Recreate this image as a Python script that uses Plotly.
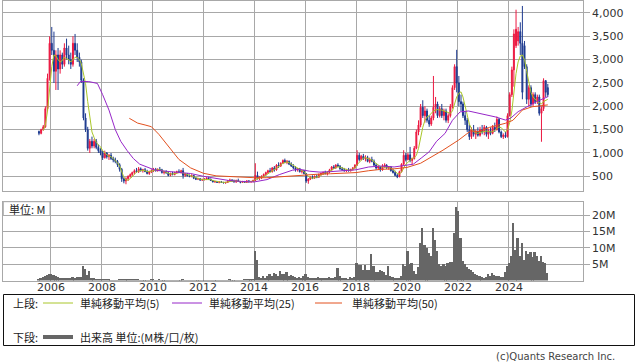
import pandas as pd
import plotly.graph_objects as go

# ---------------- data (monthly, Jul 2005 .. Jul 2025) ----------------
opens = [
    1460, 1420, 1500, 1560, 1950, 2600,                                   # 2005 Jul-Dec
    3350, 3200, 2750, 3100, 2800, 3100, 2900, 3250, 3100, 3000, 2900, 3350,  # 2006
    3200, 3050, 2950, 2560, 1750, 1500, 1100, 1250, 1150, 1250, 1120, 1050,  # 2007
    1000, 900, 1000, 920, 950, 880, 850, 820, 750, 650, 450, 400,          # 2008
    450, 500, 540, 580, 620, 600, 660, 620, 640, 600, 560, 600,            # 2009
    620, 650, 620, 650, 640, 580, 600, 570, 520, 560, 540, 580,            # 2010
    600, 580, 620, 520, 550, 510, 500, 520, 460, 440, 450, 420,            # 2011
    430, 440, 460, 440, 410, 380, 390, 370, 380, 370, 360, 370,            # 2012
    400, 420, 400, 380, 410, 390, 370, 390, 370, 400, 380, 390,            # 2013
    410, 520, 460, 480, 500, 540, 580, 620, 600, 680, 640, 740,            # 2014
    720, 780, 840, 800, 820, 760, 720, 680, 640, 660, 600, 620,            # 2015
    560, 400, 440, 480, 460, 500, 480, 540, 560, 580, 560, 590,            # 2016
    640, 700, 680, 740, 720, 660, 640, 620, 640, 620, 650, 680,            # 2017
    740, 950, 860, 930, 880, 900, 820, 860, 820, 740, 680, 700,            # 2018
    640, 720, 740, 680, 700, 620, 580, 520, 490, 600, 760, 950,            # 2019
    860, 960, 840, 880, 1100, 1450, 1600, 1980, 1800, 1900, 1700, 1620,    # 2020
    1750, 1980, 2050, 1800, 1950, 1800, 1900, 1700, 1800, 2000, 2400, 2850,  # 2021
    2500, 2100, 2050, 1800, 1700, 1500, 1350, 1500, 1400, 1450, 1380, 1500,  # 2022
    1450, 1550, 1400, 1480, 1420, 1550, 1500, 1720, 1450, 1350, 1380, 1350,  # 2023
    1800, 2250, 2780, 3300, 3400, 3600, 3350, 3300, 2850, 2150, 2400, 2050,  # 2024
    2250, 2100, 2200, 1850, 1950, 2550, 2400,                             # 2025 Jan-Jul
]
highs = [
    1480, 1520, 1600, 2000, 2700, 3500,
    3700, 3600, 3200, 3250, 3200, 3150, 3350, 3450, 3300, 3150, 3500, 3550,
    3350, 3150, 3000, 2600, 1850, 1560, 1300, 1350, 1300, 1300, 1180, 1100,
    1050, 1050, 1020, 980, 1000, 920, 900, 850, 780, 680, 480, 480,
    520, 560, 600, 650, 680, 700, 690, 660, 680, 640, 620, 650,
    680, 680, 670, 700, 660, 620, 630, 600, 580, 600, 600, 620,
    650, 640, 680, 570, 570, 540, 540, 530, 480, 470, 460, 450,
    460, 480, 490, 450, 420, 400, 400, 390, 400, 380, 380, 420,
    450, 440, 430, 430, 450, 400, 400, 400, 420, 420, 400, 430,
    780, 600, 500, 520, 560, 600, 640, 680, 700, 720, 760, 800,
    800, 860, 880, 850, 840, 800, 760, 720, 680, 680, 640, 640,
    570, 460, 500, 520, 520, 540, 560, 580, 600, 620, 600, 660,
    720, 740, 760, 780, 740, 700, 680, 660, 680, 660, 700, 760,
    1060, 1000, 960, 980, 950, 940, 900, 920, 860, 780, 740, 720,
    760, 780, 760, 720, 720, 660, 620, 560, 620, 780, 1060, 1000,
    1000, 1130, 900, 1150, 1500, 1700, 2050, 2130, 2000, 1950, 1800, 1800,
    2650, 2200, 2100, 2000, 2050, 1950, 1950, 1850, 2050, 2450, 2900, 3210,
    2650, 2250, 2100, 1900, 1750, 1600, 1550, 1600, 1500, 1550, 1560, 1600,
    1600, 1580, 1520, 1550, 1600, 1650, 1780, 1750, 1480, 1420, 1450, 1850,
    2300, 2850, 3650, 4070, 3700, 3800, 4150, 3400, 2900, 2450, 2450, 2300,
    2300, 2250, 2250, 2000, 2600, 2560, 2480,
]
lows = [
    1380, 1400, 1480, 1540, 1900, 2550,
    3100, 2500, 2350, 2350, 2700, 2800, 2850, 3000, 2900, 2800, 2850, 3100,
    2950, 2850, 2500, 1700, 1450, 1050, 1000, 1100, 1100, 1080, 1000, 950,
    850, 880, 880, 850, 850, 800, 780, 700, 600, 380, 350, 330,
    400, 470, 500, 540, 580, 570, 600, 580, 590, 540, 530, 570,
    590, 600, 600, 610, 560, 540, 560, 500, 500, 520, 520, 550,
    570, 560, 450, 490, 500, 480, 480, 440, 420, 420, 400, 400,
    410, 420, 430, 400, 370, 360, 360, 350, 360, 350, 340, 360,
    380, 390, 370, 360, 380, 350, 360, 360, 360, 370, 360, 370,
    400, 430, 420, 440, 480, 510, 550, 590, 580, 600, 620, 680,
    700, 760, 780, 760, 740, 700, 650, 600, 600, 580, 560, 540,
    360, 340, 420, 440, 450, 460, 470, 510, 530, 540, 520, 570,
    620, 660, 660, 700, 640, 620, 600, 590, 600, 600, 620, 660,
    720, 820, 840, 850, 820, 800, 780, 800, 720, 640, 640, 600,
    620, 680, 660, 640, 600, 560, 500, 460, 480, 580, 740, 820,
    840, 800, 760, 860, 1080, 1380, 1550, 1750, 1650, 1650, 1560, 1580,
    1700, 1850, 1750, 1760, 1750, 1700, 1650, 1640, 1760, 1950, 2350, 2300,
    2000, 1900, 1750, 1600, 1450, 1280, 1300, 1350, 1300, 1350, 1350, 1400,
    1380, 1350, 1300, 1380, 1400, 1450, 1480, 1420, 1320, 1300, 1320, 1330,
    1780, 2200, 2420, 3250, 3300, 3100, 2150, 2800, 2050, 2000, 1990, 2000,
    2050, 2050, 1800, 1240, 1900, 2200, 2200,
]
closes = [
    1420, 1500, 1560, 1950, 2600, 3350,
    3200, 2750, 3100, 2800, 3100, 2900, 3250, 3100, 3000, 2900, 3350, 3200,
    3050, 2950, 2560, 1750, 1500, 1100, 1250, 1150, 1250, 1120, 1050, 1000,
    900, 1000, 920, 950, 880, 850, 820, 750, 650, 450, 400, 450,
    500, 540, 580, 620, 600, 660, 620, 640, 600, 560, 600, 620,
    650, 620, 650, 640, 580, 600, 570, 520, 560, 540, 580, 600,
    580, 620, 520, 550, 510, 500, 520, 460, 440, 450, 420, 430,
    440, 460, 440, 410, 380, 390, 370, 380, 370, 360, 370, 400,
    420, 400, 380, 410, 390, 370, 390, 370, 400, 380, 390, 410,
    520, 460, 480, 500, 540, 580, 620, 600, 680, 640, 740, 720,
    780, 840, 800, 820, 760, 720, 680, 640, 660, 600, 620, 560,
    400, 440, 480, 460, 500, 480, 540, 560, 580, 560, 590, 640,
    700, 680, 740, 720, 660, 640, 620, 640, 620, 650, 680, 740,
    950, 860, 930, 880, 900, 820, 860, 820, 740, 680, 700, 640,
    720, 740, 680, 700, 620, 580, 520, 490, 600, 760, 950, 860,
    960, 840, 880, 1100, 1450, 1600, 1980, 1800, 1900, 1700, 1620, 1750,
    1980, 2050, 1800, 1950, 1800, 1900, 1700, 1800, 2000, 2400, 2850, 2500,
    2100, 2050, 1800, 1700, 1500, 1350, 1500, 1400, 1450, 1380, 1500, 1450,
    1550, 1400, 1480, 1420, 1550, 1500, 1720, 1450, 1350, 1380, 1350, 1800,
    2250, 2780, 3550, 3650, 3600, 3350, 2300, 2850, 2150, 2400, 2050, 2250,
    2100, 2200, 1850, 1950, 2550, 2300, 2250,
]
volume_m = [
    0.6, 0.8, 1.2, 1.5, 1.9, 2.1,
    2.1, 1.9, 1.6, 1.3, 1.0, 0.8, 0.9, 1.0, 0.8, 0.9, 1.2, 1.0,
    1.1, 1.3, 1.2, 4.6, 3.6, 1.8, 2.9, 1.0, 0.8, 0.7, 0.5, 0.4,
    0.5, 0.4, 0.3, 0.3, 0.2, 0.2, 0.2, 0.2, 0.3, 0.5, 0.4, 0.3,
    0.3, 0.4, 0.5, 0.4, 0.3, 0.3, 0.2, 0.2, 0.2, 0.2, 0.2, 0.3,
    0.4, 0.2, 0.2, 0.3, 0.2, 0.2, 0.1, 0.1, 0.1, 0.1, 0.2, 0.2,
    0.2, 0.2, 0.5, 0.2, 0.2, 0.1, 0.1, 0.1, 0.1, 0.1, 0.1, 0.1,
    0.1, 0.2, 0.1, 0.1, 0.1, 0.1, 0.1, 0.1, 0.1, 0.1, 0.1, 0.2,
    0.3, 0.2, 0.2, 0.2, 0.2, 0.2, 0.2, 0.3, 0.5, 0.6, 0.4, 0.5,
    9.0, 6.5, 1.2, 1.0, 1.4, 1.0, 1.5, 2.2, 1.5, 2.4, 2.0, 1.6,
    3.0, 2.0, 2.2, 2.8, 1.6, 1.8, 1.4, 1.2, 1.0, 1.3, 0.9, 1.4,
    2.0, 1.2, 1.0, 0.8, 1.0, 0.8, 1.1, 1.0, 0.8, 1.0, 0.9, 1.2,
    1.0, 0.8, 1.2, 3.9, 1.5, 1.0, 0.8, 0.9, 0.7, 1.2, 1.0, 1.2,
    5.4, 4.7, 4.9, 3.4, 4.9, 3.4, 3.4, 8.1, 4.4, 2.8, 2.6, 3.4,
    3.0, 2.6, 1.8, 4.5, 1.5, 1.2, 1.0, 0.9, 0.8, 1.5, 5.0, 4.5,
    9.0, 5.0, 5.4, 3.0, 2.0, 4.2, 11.6, 16.3, 11.0, 10.0, 8.5, 7.5,
    16.3, 12.6, 9.0, 5.2, 4.6, 5.0, 4.5, 5.4, 5.6, 5.8, 14.7, 22.6,
    21.4, 13.0, 6.2, 5.0, 4.2, 3.5, 3.2, 2.6, 2.2, 1.8, 1.6, 1.3,
    1.0, 1.2, 2.0, 1.6, 2.4, 1.8, 1.5, 1.6, 1.2, 1.3, 2.6, 4.5,
    5.5, 7.7, 17.8, 9.5, 13.0, 7.7, 11.6, 6.5, 9.0, 8.2, 8.7, 7.2,
    8.7, 7.7, 6.0, 7.7, 5.6, 5.4, 2.5,
]
# 単純移動平均(5): monthly, Sep 2005 .. Jul 2025
ma5 = [
    1480, 1600, 1900, 2450,
    2850, 3100, 3080, 3000, 2950, 2980, 3050, 3020, 3000, 2950, 3000, 3050,
    3050, 3000, 2920, 2700, 2490, 2100, 1780, 1450, 1330, 1230, 1170, 1135,
    1050, 990, 960, 930, 920, 880, 840, 790, 720, 600, 480, 420,
    420, 450, 500, 550, 590, 610, 620, 630, 620, 600, 600, 610,
    630, 640, 640, 640, 620, 600, 590, 560, 550, 550, 560, 580,
    590, 590, 570, 560, 540, 520, 510, 490, 470, 450, 440, 430,
    430, 440, 440, 430, 410, 395, 385, 380, 375, 370, 370, 380,
    390, 400, 400, 400, 400, 390, 385, 380, 385, 385, 390, 395,
    430, 450, 470, 480, 490, 520, 560, 590, 620, 640, 680, 710,
    740, 780, 800, 810, 790, 760, 720, 690, 670, 640, 620, 600,
    540, 500, 470, 460, 470, 480, 500, 530, 550, 560, 580, 600,
    630, 660, 690, 700, 700, 680, 660, 640, 630, 630, 650, 680,
    750, 800, 860, 890, 900, 880, 870, 850, 810, 770, 740, 710,
    700, 700, 710, 700, 680, 650, 610, 560, 550, 590, 680, 760,
    800, 850, 880, 900, 950, 1100, 1350, 1550, 1700, 1770, 1800, 1850,
    1900, 1920, 1930, 1920, 1920, 1900, 1880, 1860, 1850, 1900, 2050, 2200,
    2280, 2310, 2200, 2000, 1800, 1620, 1520, 1460, 1430, 1420, 1440, 1450,
    1460, 1470, 1460, 1450, 1460, 1480, 1530, 1560, 1540, 1500, 1450, 1500,
    1650, 1900, 2300, 2700, 2950, 3080, 3100, 3000, 2750, 2500, 2300, 2200,
    2150, 2100, 2080, 2050, 2100, 2130, 2150,
]
# 単純移動平均(25)
ma25_dates = ["2007-01-15", "2007-03-01", "2007-07-01", "2007-11-01", "2008-01-15", "2008-04-15",
              "2008-07-15", "2008-10-01", "2009-01-01", "2009-04-01", "2009-07-01", "2009-10-01",
              "2010-02-01", "2010-07-01", "2011-01-01", "2011-07-01", "2012-01-01", "2012-07-01",
              "2013-01-01", "2013-07-01", "2014-01-01", "2014-07-01", "2015-01-01", "2015-07-01",
              "2015-10-15", "2016-03-01", "2016-08-01", "2017-01-01", "2017-07-01", "2018-01-01",
              "2018-07-01", "2019-01-01", "2019-07-01", "2020-01-01", "2020-04-01", "2020-08-01",
              "2020-11-15", "2021-03-01", "2021-07-01", "2021-10-15", "2022-02-01", "2022-06-01",
              "2022-11-01", "2023-03-01", "2023-07-01", "2023-11-15", "2024-02-01", "2024-05-15",
              "2024-10-15", "2025-02-01", "2025-07-15"]
ma25 = [2440, 2530, 2530, 2490, 2250, 1920,
        1500, 1250, 1050, 880, 760, 700,
        635, 610, 585, 560, 500, 450,
        410, 390, 380, 430, 540, 630,
        650, 610, 590, 600, 620, 640,
        700, 720, 700, 740, 760, 900,
        1025, 1250, 1420, 1700, 1880, 1900,
        1850, 1810, 1770, 1705, 1750, 1885,
        2005, 2100, 2205]
# 単純移動平均(50)
ma50_dates = ["2009-02-01", "2009-06-01", "2009-09-15", "2009-12-15", "2010-04-01", "2010-07-15",
              "2010-10-15", "2011-01-15", "2011-07-01", "2012-01-01", "2012-07-01", "2013-01-01",
              "2013-07-01", "2014-01-01", "2014-07-01", "2015-01-01", "2015-07-01", "2016-01-01",
              "2016-07-01", "2017-01-01", "2017-07-01", "2018-01-01", "2018-07-01", "2019-01-01",
              "2019-07-01", "2020-01-01", "2020-07-15", "2020-12-01", "2021-06-01", "2022-01-15",
              "2022-07-01", "2022-11-01", "2023-04-01", "2023-11-15", "2024-03-01", "2024-07-15",
              "2024-12-01", "2025-07-15"]
ma50 = [1743, 1640, 1600, 1563, 1400, 1210,
        1030, 860, 680, 565, 510, 495,
        485, 470, 470, 490, 520, 540,
        545, 555, 565, 580, 620, 650,
        660, 690, 780, 900, 1060, 1280,
        1470, 1460, 1550, 1636, 1700, 1920,
        1990, 2030]

price_ticks = [500, 1000, 1500, 2000, 2500, 3000, 3500, 4000]
volume_ticks = [5, 10, 15, 20]
year_ticks = ["2006", "2008", "2010", "2012", "2014", "2016", "2018", "2020", "2022", "2024"]

# ---------------- figure ----------------
W, H = 638, 362
months = pd.date_range("2005-07-01", periods=len(closes), freq="MS") + pd.Timedelta(days=14)
ma5_months = pd.date_range("2005-09-01", periods=len(ma5), freq="MS") + pd.Timedelta(days=14)
assert len(opens) == len(highs) == len(lows) == len(closes) == len(volume_m)


def px(x):
    return x / W


def py(y):
    return 1 - y / H


RED = "#ec1840"
BLUE = "#1d3a8f"
C5 = "#a9c62a"
C25 = "#9626c8"
C50 = "#e2501e"
GRID = "#a8a8a8"
TXT = "#333333"
FONT = "DejaVu Sans"
JFONT = "Noto Sans CJK JP"

fig = go.Figure()
fig.add_trace(go.Candlestick(
    x=months, open=opens, high=highs, low=lows, close=closes,
    increasing=dict(line=dict(color=RED, width=1), fillcolor=RED),
    decreasing=dict(line=dict(color=BLUE, width=1), fillcolor=BLUE),
    whiskerwidth=0, xaxis="x", yaxis="y", showlegend=False, hoverinfo="skip"))
fig.add_trace(go.Scatter(x=ma5_months, y=ma5, mode="lines", line=dict(color=C5, width=1),
                         xaxis="x", yaxis="y", showlegend=False))
fig.add_trace(go.Scatter(x=pd.to_datetime(ma25_dates), y=ma25, mode="lines", line=dict(color=C25, width=1),
                         xaxis="x", yaxis="y", showlegend=False))
fig.add_trace(go.Scatter(x=pd.to_datetime(ma50_dates), y=ma50, mode="lines", line=dict(color=C50, width=1),
                         xaxis="x", yaxis="y", showlegend=False))
fig.add_trace(go.Bar(x=months, y=volume_m, marker=dict(color="#666666", line=dict(width=0)),
                     width=26 * 86400000, xaxis="x2", yaxis="y2", showlegend=False))

xrange = ["2004-02-19", "2026-11-28"]
xdom = [px(3.3), px(582.7)]
tickdates = [y + "-01-01" for y in year_ticks]

common_x = dict(range=xrange, type="date", domain=xdom, showgrid=True, gridcolor=GRID, gridwidth=1,
                tickvals=tickdates, showline=True, mirror=True, linecolor=GRID, linewidth=1,
                zeroline=False, ticks="", showticklabels=False)
fig.update_layout(
    width=W, height=H, margin=dict(l=0, r=0, t=0, b=0),
    paper_bgcolor="white", plot_bgcolor="white", bargap=0,
    font=dict(family=FONT, size=11, color=TXT),
    xaxis=dict(**common_x, anchor="y", rangeslider=dict(visible=False)),
    xaxis2=dict(**common_x, anchor="y2"),
    yaxis=dict(domain=[py(190.5), py(0.5)], range=[196, 4267], side="right", anchor="x",
               tickvals=price_ticks, ticktext=[f"{v:,}" for v in price_ticks],
               showgrid=True, gridcolor=GRID, showline=True, mirror=True, linecolor=GRID,
               ticks="outside", ticklen=6, tickcolor=GRID, zeroline=False,
               tickfont=dict(family=FONT, size=11, color=TXT)),
    yaxis2=dict(domain=[py(280.5), py(201.7)], range=[0, 24.1], side="right", anchor="x2",
                tickvals=volume_ticks, ticktext=[f"{v}M" for v in volume_ticks],
                showgrid=True, gridcolor=GRID, showline=True, mirror=True, linecolor=GRID,
                ticks="outside", ticklen=6, tickcolor=GRID, zeroline=False,
                tickfont=dict(family=FONT, size=11, color=TXT)),
)

shapes = []
annotations = []
# year labels under the volume panel
for lab, d in zip(year_ticks, tickdates):
    annotations.append(dict(text=lab, xref="x2", yref="paper", x=d, y=py(287.5), xanchor="center",
                            yanchor="middle", showarrow=False, font=dict(family=FONT, size=11, color=TXT)))
# 単位 box
shapes.append(dict(type="rect", xref="paper", yref="paper", x0=px(3.3), x1=px(50), y0=py(215.5), y1=py(201.7),
                   fillcolor="white", line=dict(color=GRID, width=1), layer="above"))
annotations.append(dict(text="単位: M", xref="paper", yref="paper", x=px(7), y=py(208.6), xanchor="left",
                        yanchor="middle", showarrow=False, font=dict(family=JFONT, size=11, color="#222")))
# legend box
shapes.append(dict(type="rect", xref="paper", yref="paper", x0=px(3.5), x1=px(634.5), y0=py(345.5), y1=py(294.5),
                   fillcolor="rgba(0,0,0,0)", line=dict(color="#111111", width=1)))
row1, row2 = 303, 337
leg = [(43, 73, C5, 1, 78, "単純移動平均(5)"), (172, 202, C25, 1, 207, "単純移動平均(25)"),
       (315, 342, C50, 1, 350, "単純移動平均(50)")]
annotations.append(dict(text="上段:", xref="paper", yref="paper", x=px(11), y=py(row1), xanchor="left",
                        yanchor="middle", showarrow=False, font=dict(family=JFONT, size=11, color="#222")))
for x0, x1, col, w, tx, label in leg:
    shapes.append(dict(type="line", xref="paper", yref="paper", x0=px(x0), x1=px(x1), y0=py(row1), y1=py(row1),
                       line=dict(color=col, width=w)))
    annotations.append(dict(text=label, xref="paper", yref="paper", x=px(tx), y=py(row1), xanchor="left",
                            yanchor="middle", showarrow=False, font=dict(family=JFONT, size=11, color="#222")))
annotations.append(dict(text="下段:", xref="paper", yref="paper", x=px(11), y=py(row2), xanchor="left",
                        yanchor="middle", showarrow=False, font=dict(family=JFONT, size=11, color="#222")))
shapes.append(dict(type="line", xref="paper", yref="paper", x0=px(43), x1=px(73), y0=py(row2), y1=py(row2),
                   line=dict(color="#666666", width=4)))
annotations.append(dict(text="出来高 単位:(M株/口/枚)", xref="paper", yref="paper", x=px(78), y=py(row2),
                        xanchor="left", yanchor="middle", showarrow=False,
                        font=dict(family=JFONT, size=11, color="#222")))
annotations.append(dict(text="(c)Quants Research Inc.", xref="paper", yref="paper", x=px(617), y=py(356.5),
                        xanchor="right", yanchor="middle", showarrow=False,
                        font=dict(family=FONT, size=10, color="#444")))
fig.update_layout(shapes=shapes, annotations=annotations)

fig.write_html("out.html")
